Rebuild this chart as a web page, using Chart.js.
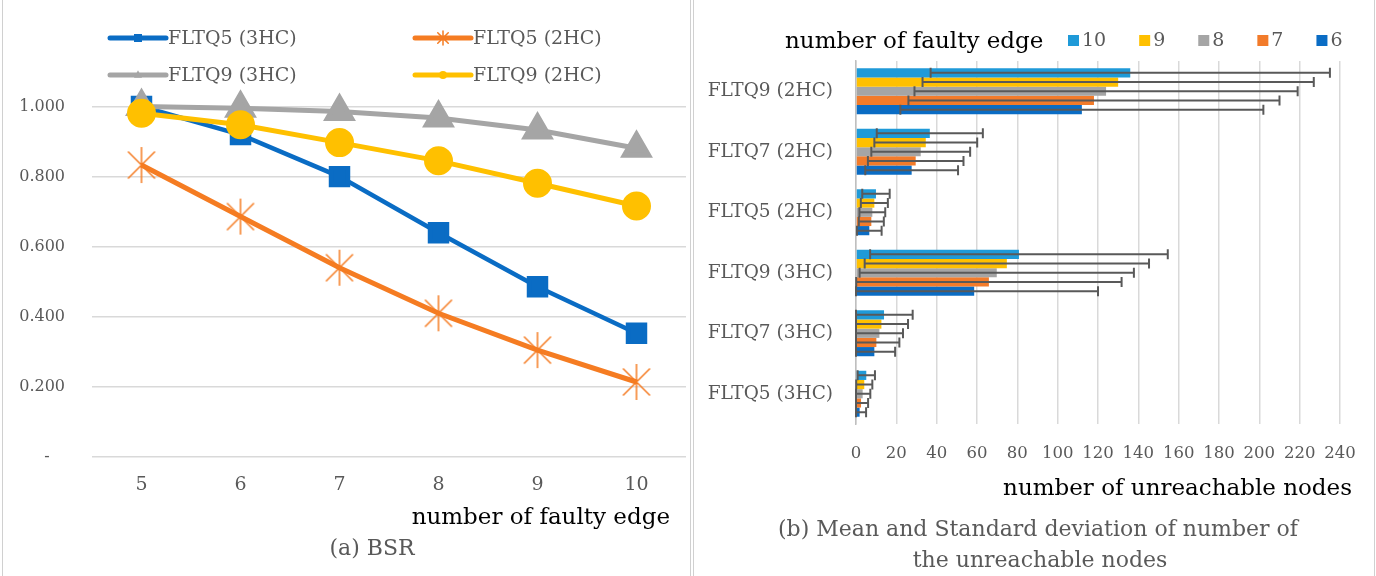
<!DOCTYPE html>
<html>
<head>
<meta charset="utf-8">
<script src="https://cdn.jsdelivr.net/npm/chart.js@4.4.0/dist/chart.umd.min.js"></script>
<style>
  body { margin: 0; width: 1376px; height: 576px; overflow: hidden; background: #fff; font-family: "DejaVu Serif", serif; }
  .panel { position: absolute; top: -2px; height: 580px; border-left: 1.5px solid #d0d0d0; border-right: 1.5px solid #d0d0d0; box-sizing: border-box; }
  canvas { position: absolute; top: 0; }
  .txt { position: absolute; white-space: nowrap; line-height: 1; }
</style>
</head>
<body>
<div class="panel" style="left:2px;width:689px"></div>
<div class="panel" style="left:693px;width:682px"></div>
<canvas id="bsrChart" width="690" height="576" style="left:0"></canvas>
<canvas id="nodesChart" width="683" height="576" style="left:693px"></canvas>

<div class="txt" style="right:706px;top:505px;font-size:23px;color:#000">number of faulty edge</div>
<div class="txt" style="left:372px;top:537px;font-size:22px;color:#595959;transform:translateX(-50%)">(a) BSR</div>
<div class="txt" style="left:785px;top:29px;font-size:23px;color:#000">number of faulty edge</div>
<div class="txt" style="right:24px;top:476px;font-size:23px;color:#000">number of unreachable nodes</div>
<div class="txt" style="left:1038px;top:518px;font-size:22px;color:#595959;transform:translateX(-50%)">(b) Mean and Standard deviation of number of</div>
<div class="txt" style="left:1040px;top:549px;font-size:22px;color:#595959;transform:translateX(-50%)">the unreachable nodes</div>

<script>
// (a) BSR
const faultyEdges = ['5', '6', '7', '8', '9', '10'];
const fltq5_3hc = [1.000, 0.920, 0.800, 0.640, 0.486, 0.353];
const fltq5_2hc = [0.833, 0.686, 0.540, 0.410, 0.305, 0.214];
const fltq9_3hc = [1.000, 0.995, 0.986, 0.967, 0.933, 0.881];
const fltq9_2hc = [0.981, 0.948, 0.897, 0.845, 0.781, 0.716];
const bsrTicks = [0, 0.2, 0.4, 0.6, 0.8, 1.0];

// (b) unreachable nodes, mean and sd per number of faulty edge
const configs = ['FLTQ9 (2HC)', 'FLTQ7 (2HC)', 'FLTQ5 (2HC)', 'FLTQ9 (3HC)', 'FLTQ7 (3HC)', 'FLTQ5 (3HC)'];
const edgeLabels = ['10', '9', '8', '7', '6'];
const mean10 = [136, 36.6, 9.9, 80.8, 13.9, 5.1];
const mean9 = [130, 34.6, 9.1, 74.8, 12.6, 4.1];
const mean8 = [124, 32.1, 8.1, 69.8, 11.6, 3.3];
const mean7 = [118, 29.6, 7.6, 65.9, 10.1, 2.5];
const mean6 = [112, 27.6, 6.6, 58.6, 9.1, 1.8];
const sd10 = [99, 26.3, 6.8, 73.8, 14.2, 4.3];
const sd9 = [97, 25.5, 6.7, 70.5, 13.2, 4.0];
const sd8 = [95, 24.5, 6.4, 68.0, 11.7, 3.8];
const sd7 = [92, 23.7, 6.2, 65.8, 11.4, 3.5];
const sd6 = [90, 23.0, 6.1, 61.4, 10.3, 3.2];

const GRAY_TEXT = '#595959';
const GRID = '#d9d9d9';
const FONT = 'DejaVu Serif';
const ORANGE = '#f57c22';

function drawMarker(ctx, style, x, y, r, color) {
    ctx.save();
    ctx.fillStyle = color;
    ctx.strokeStyle = color;
    ctx.beginPath();
    if (style === 'rect') {
        ctx.fillRect(x - r, y - r, 2 * r, 2 * r);
    } else if (style === 'circle') {
        ctx.arc(x, y, r, 0, Math.PI * 2);
        ctx.fill();
    } else if (style === 'triangle') {
        ctx.moveTo(x, y - r * 1.2);
        ctx.lineTo(x + r, y + r * 0.7);
        ctx.lineTo(x - r, y + r * 0.7);
        ctx.closePath();
        ctx.fill();
    } else if (style === 'star') {
        ctx.lineWidth = 1.5;
        ctx.moveTo(x, y - r); ctx.lineTo(x, y + r);
        ctx.moveTo(x - r * 0.75, y - r * 0.75); ctx.lineTo(x + r * 0.75, y + r * 0.75);
        ctx.moveTo(x + r * 0.75, y - r * 0.75); ctx.lineTo(x - r * 0.75, y + r * 0.75);
        ctx.stroke();
    }
    ctx.restore();
}

// Excel's star marker: vertical stroke plus an X, no horizontal arm
const starImg = document.createElement('canvas');
starImg.width = 38;
starImg.height = 38;
drawMarker(starImg.getContext('2d'), 'star', 19, 19, 18, ORANGE);

// legend drawn as Excel does: line segment with a marker, two columns
const bsrLegend = {
    id: 'bsrLegend',
    afterDraw(chart) {
        const ctx = chart.ctx;
        const slots = [[110, 38], [415, 38], [110, 75], [415, 75]];
        chart.data.datasets.forEach((ds, i) => {
            const [x, y] = slots[i];
            const style = ds.legendMarker;
            ctx.save();
            ctx.strokeStyle = ds.borderColor;
            ctx.lineWidth = 5;
            ctx.lineCap = 'round';
            ctx.beginPath();
            ctx.moveTo(x, y);
            ctx.lineTo(x + 56, y);
            ctx.stroke();
            drawMarker(ctx, style, x + 28, y, style === 'star' ? 7 : 4, ds.borderColor);
            ctx.fillStyle = GRAY_TEXT;
            ctx.font = `19px "${FONT}"`;
            ctx.textBaseline = 'middle';
            ctx.fillText(ds.label, x + 58, y + 1);
            ctx.restore();
        });
    }
};

new Chart(document.getElementById('bsrChart'), {
    type: 'line',
    data: {
        labels: faultyEdges,
        datasets: [
            { label: 'FLTQ5 (3HC)', data: fltq5_3hc, borderColor: '#0a6cc4', backgroundColor: '#0a6cc4',
              borderWidth: 4.5, pointStyle: 'rect', legendMarker: 'rect', pointRadius: 12, order: 4 },
            { label: 'FLTQ5 (2HC)', data: fltq5_2hc, borderColor: ORANGE, backgroundColor: ORANGE,
              borderWidth: 5, pointStyle: starImg, legendMarker: 'star', pointRadius: 17, order: 3 },
            { label: 'FLTQ9 (3HC)', data: fltq9_3hc, borderColor: '#a5a5a5', backgroundColor: '#a5a5a5',
              borderWidth: 5, pointStyle: 'triangle', legendMarker: 'triangle', pointRadius: 14, order: 2 },
            { label: 'FLTQ9 (2HC)', data: fltq9_2hc, borderColor: '#ffc000', backgroundColor: '#ffc000',
              borderWidth: 5, pointStyle: 'circle', legendMarker: 'circle', pointRadius: 12, order: 1 }
        ]
    },
    options: {
        responsive: false,
        animation: false,
        devicePixelRatio: 1,
        clip: false,
        layout: { autoPadding: false, padding: { left: 0, right: 4, top: 89, bottom: 79 } },
        plugins: { legend: { display: false }, tooltip: { enabled: false } },
        scales: {
            x: {
                offset: true,
                grid: { display: false, drawTicks: false },
                border: { display: false },
                ticks: { color: GRAY_TEXT, font: { family: FONT, size: 19 }, padding: 17, maxRotation: 0, minRotation: 0 },
                afterFit: s => { s.height = 40; }
            },
            y: {
                min: 0,
                max: 1.05,
                afterBuildTicks: s => { s.ticks = bsrTicks.map(v => ({ value: v })); },
                grid: { color: GRID, lineWidth: 1.5, drawTicks: false },
                border: { display: false },
                ticks: {
                    color: GRAY_TEXT, font: { family: FONT, size: 16 }, padding: 27,
                    callback: v => v === 0 ? '-   ' : v.toFixed(3)
                },
                afterFit: s => { s.width = 92; }
            }
        }
    },
    plugins: [bsrLegend]
});

// (b) bar chart with error bars
const barColors = ['#1f9ad8', '#ffc000', '#a5a5a5', '#f27b2a', '#0a6cc4'];
const means = [mean10, mean9, mean8, mean7, mean6];
const sds = [sd10, sd9, sd8, sd7, sd6];

const errorBars = {
    id: 'errorBars',
    afterDatasetsDraw(chart) {
        const ctx = chart.ctx;
        const xs = chart.scales.x;
        ctx.save();
        ctx.strokeStyle = '#595959';
        ctx.lineWidth = 2;
        chart.data.datasets.forEach((ds, i) => {
            chart.getDatasetMeta(i).data.forEach((bar, j) => {
                const m = ds.data[j], s = sds[i][j];
                const x1 = xs.getPixelForValue(Math.max(0, m - s));
                const x2 = xs.getPixelForValue(Math.min(xs.max, m + s));
                const y = bar.y, h = 5;
                ctx.beginPath();
                ctx.moveTo(x1, y); ctx.lineTo(x2, y);
                ctx.moveTo(x1, y - h); ctx.lineTo(x1, y + h);
                ctx.moveTo(x2, y - h); ctx.lineTo(x2, y + h);
                ctx.stroke();
            });
        });
        ctx.restore();
    }
};

const nodesLegend = {
    id: 'nodesLegend',
    afterDraw(chart) {
        const ctx = chart.ctx;
        ctx.save();
        ctx.font = `19px "${FONT}"`;
        ctx.textBaseline = 'middle';
        let x = 375;
        const y = 41;
        chart.data.datasets.forEach(ds => {
            ctx.fillStyle = ds.backgroundColor;
            ctx.fillRect(x, y - 6, 11, 11);
            ctx.fillStyle = GRAY_TEXT;
            ctx.fillText(ds.label, x + 14, y);
            x += 14 + ctx.measureText(ds.label).width + 33;
        });
        ctx.restore();
    }
};

new Chart(document.getElementById('nodesChart'), {
    type: 'bar',
    data: {
        labels: configs,
        datasets: edgeLabels.map((lbl, i) => ({
            label: lbl,
            data: means[i],
            backgroundColor: barColors[i],
            borderWidth: 0,
            categoryPercentage: 0.76,
            barPercentage: 1.0
        }))
    },
    options: {
        indexAxis: 'y',
        responsive: false,
        animation: false,
        devicePixelRatio: 1,
        layout: { padding: { left: 0, right: 36, top: 61, bottom: 112 } },
        plugins: { legend: { display: false }, tooltip: { enabled: false } },
        scales: {
            x: {
                min: 0,
                max: 240,
                ticks: { stepSize: 20, color: GRAY_TEXT, font: { family: FONT, size: 16.5 }, padding: 20, maxRotation: 0 },
                grid: { color: GRID, lineWidth: 1.5, drawTicks: false },
                border: { display: false },
                afterFit: s => { s.height = 40; }
            },
            y: {
                grid: { display: false, drawTicks: false },
                border: { display: true, color: '#bfbfbf', width: 1.5 },
                ticks: { color: GRAY_TEXT, font: { family: FONT, size: 18.5 }, padding: 23 },
                afterFit: s => { s.width = 163; }
            }
        }
    },
    plugins: [errorBars, nodesLegend]
});
</script>
</body>
</html>
